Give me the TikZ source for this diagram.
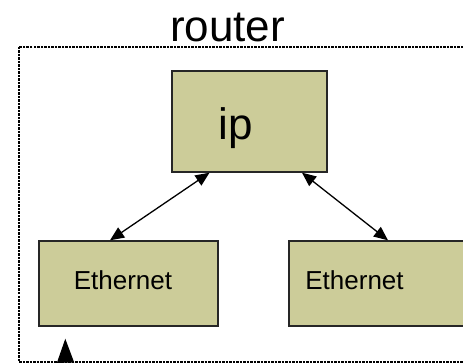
\documentclass[tikz,border=0pt]{standalone}
\usepackage{fontspec}
\setmainfont{Liberation Sans}
\usepackage{xcolor}
\usetikzlibrary{arrows.meta, positioning, calc}

\definecolor{boxfill}{RGB}{204,204,153}
\tikzset{
  box/.style={draw=black!85, line width=1.4pt, fill=boxfill, inner sep=0pt},
  link/.style={line width=1.3pt, {Triangle[length=14pt,width=12pt]}-{Triangle[length=14pt,width=12pt]}},
  inlink/.style={line width=1.3pt, -{Triangle[length=24pt,width=17pt]}},
  frame/.style={line width=2pt, dash pattern=on 2.5pt off 1pt}
}

\begin{document}
\begin{tikzpicture}[x=1pt,y=-1pt]
          \useasboundingbox (0,0) rectangle (463,363);
          \clip (0,0) rectangle (463,363);

          \coordinate (F1) at (19,47);
          \coordinate (F2) at (500,362);

          \draw[frame] (F1) rectangle (F2);
          \node[anchor=base, font=\fontsize{44}{48}\selectfont] (router) at (227.5,42) {router};

          \node[box, minimum width=155pt, minimum height=101pt] (ip) at (249.5,121.5) {};
          \node[box, minimum width=179pt, minimum height=85pt] (eth1) at (128.5,283.5) {};
          \node[box, minimum width=179pt, minimum height=85pt] (eth2) at (378.5,283.5) {};

          \node[anchor=base, font=\fontsize{44}{48}\selectfont] (iptext) at (236,140) {ip};
          \node[anchor=base, font=\fontsize{26}{30}\selectfont] (eth1text) at (123,290) {Ethernet};
          \node[anchor=base, font=\fontsize{26}{30}\selectfont] (eth2text) at (354.5,290) {Ethernet};

          \draw[link] ($(ip.south)+(-40,0)$) -- ($(eth1.north)+(-18.5,0)$);
          \draw[link] ($(ip.south)+(52.5,0)$) -- ($(eth2.north)+(9.5,0)$);

          \coordinate (wire) at (66,400);
          \coordinate (tip) at ($(eth1.south west)+(27,12)$);
          \draw[inlink] (wire) -- (tip);
        \end{tikzpicture}
\end{document}
